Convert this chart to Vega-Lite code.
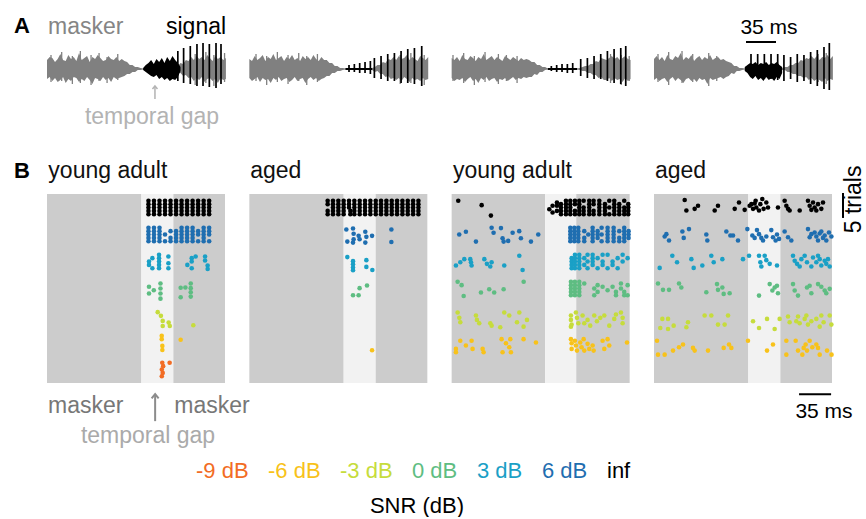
{
  "$schema": "https://vega.github.io/schema/vega-lite/v6.json",
  "background": "white",
  "padding": {"left": 13, "top": 14, "right": 0, "bottom": 0},
  "config": {
    "view": {"stroke": null},
    "font": "Liberation Sans",
    "axis": {"disable": true}
  },
  "datasets": {
    "stim": [
      {"p": 1, "seg": "masker", "t0": 0, "t1": 106}, {"p": 1, "seg": "gap", "t0": 106, "t1": 142}, {"p": 1, "seg": "masker", "t0": 142, "t1": 200},
      {"p": 2, "seg": "masker", "t0": 0, "t1": 106}, {"p": 2, "seg": "gap", "t0": 106, "t1": 142}, {"p": 2, "seg": "masker", "t0": 142, "t1": 200},
      {"p": 3, "seg": "masker", "t0": 0, "t1": 105}, {"p": 3, "seg": "gap", "t0": 105, "t1": 140}, {"p": 3, "seg": "masker", "t0": 140, "t1": 200},
      {"p": 4, "seg": "masker", "t0": 0, "t1": 106}, {"p": 4, "seg": "gap", "t0": 106, "t1": 142}, {"p": 4, "seg": "masker", "t0": 142, "t1": 200}
    ],
    "wave": [
      {"w":1,"t":0,"hi":9,"lo":-10},{"w":1,"t":3,"hi":12,"lo":-8},{"w":1,"t":6,"hi":11,"lo":-12},{"w":1,"t":9,"hi":7,"lo":-9},{"w":1,"t":12,"hi":10,"lo":-13},{"w":1,"t":15,"hi":15,"lo":-11},{"w":1,"t":18,"hi":9,"lo":-8},{"w":1,"t":21,"hi":8,"lo":-14},{"w":1,"t":24,"hi":14,"lo":-10},{"w":1,"t":27,"hi":10,"lo":-12},{"w":1,"t":30,"hi":12,"lo":-8},{"w":1,"t":33,"hi":8,"lo":-9},{"w":1,"t":36,"hi":16,"lo":-13},{"w":1,"t":39,"hi":9,"lo":-10},{"w":1,"t":42,"hi":11,"lo":-12},{"w":1,"t":45,"hi":13,"lo":-8},{"w":1,"t":48,"hi":7,"lo":-11},{"w":1,"t":51,"hi":12,"lo":-15},{"w":1,"t":54,"hi":10,"lo":-9},{"w":1,"t":57,"hi":14,"lo":-10},{"w":1,"t":60,"hi":11,"lo":-12},{"w":1,"t":63,"hi":8,"lo":-8},{"w":1,"t":66,"hi":9,"lo":-11},{"w":1,"t":69,"hi":13,"lo":-9},{"w":1,"t":72,"hi":10,"lo":-13},{"w":1,"t":75,"hi":9,"lo":-8},{"w":1,"t":78,"hi":12,"lo":-10},{"w":1,"t":81,"hi":8,"lo":-9},{"w":1,"t":84,"hi":10,"lo":-8},{"w":1,"t":87,"hi":8,"lo":-7},{"w":1,"t":90,"hi":7,"lo":-5},{"w":1,"t":93,"hi":4,"lo":-5},{"w":1,"t":96,"hi":4,"lo":-3},{"w":1,"t":99,"hi":2,"lo":-3},{"w":1,"t":102,"hi":2,"lo":-1},{"w":1,"t":105,"hi":1,"lo":-1},{"w":1,"t":108,"hi":0.6,"lo":-0.6},{"w":1,"t":138,"hi":0.6,"lo":-0.6},{"w":1,"t":141,"hi":1,"lo":-1},{"w":1,"t":144,"hi":3,"lo":-2},{"w":1,"t":147,"hi":3,"lo":-4},{"w":1,"t":150,"hi":6,"lo":-4},{"w":1,"t":153,"hi":5,"lo":-7},{"w":1,"t":156,"hi":9,"lo":-6},{"w":1,"t":159,"hi":8,"lo":-9},{"w":1,"t":162,"hi":12,"lo":-8},{"w":1,"t":165,"hi":9,"lo":-12},{"w":1,"t":168,"hi":13,"lo":-9},{"w":1,"t":171,"hi":10,"lo":-11},{"w":1,"t":174,"hi":12,"lo":-8},{"w":1,"t":177,"hi":9,"lo":-13},{"w":1,"t":180,"hi":14,"lo":-10},{"w":1,"t":183,"hi":11,"lo":-9},{"w":1,"t":186,"hi":8,"lo":-12},{"w":1,"t":189,"hi":13,"lo":-10},{"w":1,"t":192,"hi":10,"lo":-14},{"w":1,"t":195,"hi":12,"lo":-9},{"w":1,"t":198,"hi":9,"lo":-11},{"w":1,"t":201,"hi":11,"lo":-10},
      {"w":2,"t":0,"hi":10,"lo":-9},{"w":2,"t":3,"hi":8,"lo":-12},{"w":2,"t":6,"hi":13,"lo":-10},{"w":2,"t":9,"hi":9,"lo":-8},{"w":2,"t":12,"hi":11,"lo":-13},{"w":2,"t":15,"hi":14,"lo":-9},{"w":2,"t":18,"hi":8,"lo":-11},{"w":2,"t":21,"hi":12,"lo":-10},{"w":2,"t":24,"hi":10,"lo":-14},{"w":2,"t":27,"hi":15,"lo":-9},{"w":2,"t":30,"hi":9,"lo":-11},{"w":2,"t":33,"hi":11,"lo":-8},{"w":2,"t":36,"hi":13,"lo":-12},{"w":2,"t":39,"hi":8,"lo":-10},{"w":2,"t":42,"hi":12,"lo":-9},{"w":2,"t":45,"hi":10,"lo":-13},{"w":2,"t":48,"hi":14,"lo":-11},{"w":2,"t":51,"hi":9,"lo":-8},{"w":2,"t":54,"hi":11,"lo":-12},{"w":2,"t":57,"hi":8,"lo":-10},{"w":2,"t":60,"hi":13,"lo":-9},{"w":2,"t":63,"hi":10,"lo":-14},{"w":2,"t":66,"hi":12,"lo":-10},{"w":2,"t":69,"hi":9,"lo":-8},{"w":2,"t":72,"hi":14,"lo":-11},{"w":2,"t":75,"hi":10,"lo":-9},{"w":2,"t":78,"hi":8,"lo":-12},{"w":2,"t":81,"hi":12,"lo":-10},{"w":2,"t":84,"hi":9,"lo":-9},{"w":2,"t":87,"hi":9,"lo":-7},{"w":2,"t":90,"hi":6,"lo":-7},{"w":2,"t":93,"hi":6,"lo":-4},{"w":2,"t":96,"hi":3,"lo":-4},{"w":2,"t":99,"hi":3,"lo":-2},{"w":2,"t":102,"hi":1,"lo":-2},{"w":2,"t":105,"hi":1,"lo":-1},{"w":2,"t":108,"hi":0.6,"lo":-0.6},{"w":2,"t":135,"hi":0.6,"lo":-0.6},{"w":2,"t":138,"hi":1,"lo":-1},{"w":2,"t":141,"hi":2,"lo":-3},{"w":2,"t":144,"hi":4,"lo":-2},{"w":2,"t":147,"hi":4,"lo":-5},{"w":2,"t":150,"hi":7,"lo":-5},{"w":2,"t":153,"hi":6,"lo":-8},{"w":2,"t":156,"hi":10,"lo":-7},{"w":2,"t":159,"hi":9,"lo":-10},{"w":2,"t":162,"hi":12,"lo":-9},{"w":2,"t":165,"hi":9,"lo":-11},{"w":2,"t":168,"hi":13,"lo":-9},{"w":2,"t":171,"hi":10,"lo":-12},{"w":2,"t":174,"hi":11,"lo":-8},{"w":2,"t":177,"hi":14,"lo":-10},{"w":2,"t":180,"hi":9,"lo":-13},{"w":2,"t":183,"hi":12,"lo":-9},{"w":2,"t":186,"hi":10,"lo":-11},{"w":2,"t":189,"hi":8,"lo":-10},{"w":2,"t":192,"hi":13,"lo":-12},{"w":2,"t":195,"hi":11,"lo":-9},{"w":2,"t":198,"hi":9,"lo":-11},{"w":2,"t":201,"hi":12,"lo":-10},
      {"w":3,"t":0,"hi":11,"lo":-9},{"w":3,"t":3,"hi":9,"lo":-12},{"w":3,"t":6,"hi":12,"lo":-10},{"w":3,"t":9,"hi":8,"lo":-11},{"w":3,"t":12,"hi":14,"lo":-9},{"w":3,"t":15,"hi":10,"lo":-13},{"w":3,"t":18,"hi":9,"lo":-10},{"w":3,"t":21,"hi":13,"lo":-8},{"w":3,"t":24,"hi":11,"lo":-12},{"w":3,"t":27,"hi":8,"lo":-10},{"w":3,"t":30,"hi":12,"lo":-14},{"w":3,"t":33,"hi":10,"lo":-9},{"w":3,"t":36,"hi":15,"lo":-11},{"w":3,"t":39,"hi":9,"lo":-8},{"w":3,"t":42,"hi":11,"lo":-12},{"w":3,"t":45,"hi":13,"lo":-10},{"w":3,"t":48,"hi":9,"lo":-9},{"w":3,"t":51,"hi":12,"lo":-13},{"w":3,"t":54,"hi":10,"lo":-10},{"w":3,"t":57,"hi":8,"lo":-11},{"w":3,"t":60,"hi":13,"lo":-9},{"w":3,"t":63,"hi":11,"lo":-12},{"w":3,"t":66,"hi":9,"lo":-10},{"w":3,"t":69,"hi":12,"lo":-8},{"w":3,"t":72,"hi":10,"lo":-11},{"w":3,"t":75,"hi":8,"lo":-9},{"w":3,"t":78,"hi":11,"lo":-10},{"w":3,"t":81,"hi":9,"lo":-8},{"w":3,"t":84,"hi":10,"lo":-9},{"w":3,"t":87,"hi":9,"lo":-8},{"w":3,"t":90,"hi":7,"lo":-8},{"w":3,"t":93,"hi":7,"lo":-5},{"w":3,"t":96,"hi":4,"lo":-6},{"w":3,"t":99,"hi":4,"lo":-3},{"w":3,"t":102,"hi":2,"lo":-3},{"w":3,"t":105,"hi":2,"lo":-1},{"w":3,"t":108,"hi":0.6,"lo":-0.6},{"w":3,"t":141,"hi":0.6,"lo":-0.6},{"w":3,"t":144,"hi":1,"lo":-1},{"w":3,"t":147,"hi":2,"lo":-2},{"w":3,"t":150,"hi":3,"lo":-2},{"w":3,"t":153,"hi":3,"lo":-4},{"w":3,"t":156,"hi":5,"lo":-4},{"w":3,"t":159,"hi":5,"lo":-6},{"w":3,"t":162,"hi":8,"lo":-6},{"w":3,"t":165,"hi":7,"lo":-9},{"w":3,"t":168,"hi":11,"lo":-8},{"w":3,"t":171,"hi":10,"lo":-11},{"w":3,"t":174,"hi":9,"lo":-11},{"w":3,"t":177,"hi":11,"lo":-9},{"w":3,"t":180,"hi":13,"lo":-12},{"w":3,"t":183,"hi":10,"lo":-9},{"w":3,"t":186,"hi":12,"lo":-11},{"w":3,"t":189,"hi":9,"lo":-10},{"w":3,"t":192,"hi":11,"lo":-13},{"w":3,"t":195,"hi":13,"lo":-9},{"w":3,"t":198,"hi":10,"lo":-12},{"w":3,"t":201,"hi":9,"lo":-10},
      {"w":4,"t":0,"hi":10,"lo":-11},{"w":4,"t":3,"hi":13,"lo":-9},{"w":4,"t":6,"hi":9,"lo":-12},{"w":4,"t":9,"hi":12,"lo":-10},{"w":4,"t":12,"hi":8,"lo":-9},{"w":4,"t":15,"hi":14,"lo":-13},{"w":4,"t":18,"hi":10,"lo":-10},{"w":4,"t":21,"hi":9,"lo":-8},{"w":4,"t":24,"hi":13,"lo":-12},{"w":4,"t":27,"hi":11,"lo":-9},{"w":4,"t":30,"hi":16,"lo":-11},{"w":4,"t":33,"hi":9,"lo":-14},{"w":4,"t":36,"hi":12,"lo":-10},{"w":4,"t":39,"hi":10,"lo":-9},{"w":4,"t":42,"hi":14,"lo":-12},{"w":4,"t":45,"hi":8,"lo":-10},{"w":4,"t":48,"hi":11,"lo":-13},{"w":4,"t":51,"hi":13,"lo":-9},{"w":4,"t":54,"hi":9,"lo":-11},{"w":4,"t":57,"hi":12,"lo":-10},{"w":4,"t":60,"hi":10,"lo":-15},{"w":4,"t":63,"hi":14,"lo":-9},{"w":4,"t":66,"hi":9,"lo":-11},{"w":4,"t":69,"hi":11,"lo":-10},{"w":4,"t":72,"hi":12,"lo":-9},{"w":4,"t":75,"hi":9,"lo":-8},{"w":4,"t":78,"hi":10,"lo":-10},{"w":4,"t":81,"hi":8,"lo":-8},{"w":4,"t":84,"hi":7,"lo":-7},{"w":4,"t":87,"hi":6,"lo":-4},{"w":4,"t":90,"hi":3,"lo":-5},{"w":4,"t":93,"hi":3,"lo":-2},{"w":4,"t":96,"hi":1,"lo":-2},{"w":4,"t":99,"hi":1,"lo":-1},{"w":4,"t":102,"hi":0.6,"lo":-0.6},{"w":4,"t":141,"hi":0.6,"lo":-0.6},{"w":4,"t":144,"hi":1,"lo":-1},{"w":4,"t":147,"hi":2,"lo":-1},{"w":4,"t":150,"hi":2,"lo":-3},{"w":4,"t":153,"hi":4,"lo":-3},{"w":4,"t":156,"hi":4,"lo":-5},{"w":4,"t":159,"hi":6,"lo":-5},{"w":4,"t":162,"hi":6,"lo":-7},{"w":4,"t":165,"hi":9,"lo":-7},{"w":4,"t":168,"hi":8,"lo":-9},{"w":4,"t":171,"hi":11,"lo":-8},{"w":4,"t":174,"hi":10,"lo":-11},{"w":4,"t":177,"hi":13,"lo":-9},{"w":4,"t":180,"hi":10,"lo":-12},{"w":4,"t":183,"hi":13,"lo":-10},{"w":4,"t":186,"hi":9,"lo":-11},{"w":4,"t":189,"hi":12,"lo":-13},{"w":4,"t":192,"hi":11,"lo":-9},{"w":4,"t":195,"hi":14,"lo":-12},{"w":4,"t":198,"hi":10,"lo":-10},{"w":4,"t":201,"hi":13,"lo":-11}
    ],
    "peaks": [
      {"w":1,"t":4.5,"hi":14,"lo":-13},{"w":1,"t":16.5,"hi":17,"lo":-12},{"w":1,"t":28.5,"hi":13,"lo":-15},{"w":1,"t":37.5,"hi":18,"lo":-14},{"w":1,"t":49.5,"hi":14,"lo":-16},{"w":1,"t":58.5,"hi":16,"lo":-12},{"w":1,"t":67.5,"hi":12,"lo":-14},{"w":1,"t":79.5,"hi":15,"lo":-11},{"w":1,"t":166.5,"hi":15,"lo":-16},{"w":1,"t":178.5,"hi":17,"lo":-14},{"w":1,"t":187.5,"hi":14,"lo":-17},{"w":1,"t":199.5,"hi":16,"lo":-13},
      {"w":2,"t":7.5,"hi":15,"lo":-12},{"w":2,"t":19.5,"hi":13,"lo":-16},{"w":2,"t":31.5,"hi":17,"lo":-13},{"w":2,"t":43.5,"hi":14,"lo":-15},{"w":2,"t":55.5,"hi":16,"lo":-12},{"w":2,"t":64.5,"hi":13,"lo":-16},{"w":2,"t":76.5,"hi":15,"lo":-13},{"w":2,"t":169.5,"hi":14,"lo":-15},{"w":2,"t":181.5,"hi":16,"lo":-14},{"w":2,"t":196.5,"hi":14,"lo":-16},
      {"w":3,"t":1.5,"hi":14,"lo":-12},{"w":3,"t":13.5,"hi":16,"lo":-14},{"w":3,"t":25.5,"hi":13,"lo":-16},{"w":3,"t":37.5,"hi":17,"lo":-13},{"w":3,"t":52.5,"hi":15,"lo":-15},{"w":3,"t":61.5,"hi":14,"lo":-12},{"w":3,"t":73.5,"hi":13,"lo":-14},{"w":3,"t":178.5,"hi":15,"lo":-14},{"w":3,"t":190.5,"hi":14,"lo":-16},{"w":3,"t":199.5,"hi":13,"lo":-12},
      {"w":4,"t":4.5,"hi":15,"lo":-13},{"w":4,"t":16.5,"hi":17,"lo":-16},{"w":4,"t":31.5,"hi":18,"lo":-14},{"w":4,"t":43.5,"hi":15,"lo":-13},{"w":4,"t":61.5,"hi":16,"lo":-17},{"w":4,"t":70.5,"hi":13,"lo":-12},{"w":4,"t":184.5,"hi":15,"lo":-13},{"w":4,"t":193.5,"hi":16,"lo":-15}
    ],
    "sig": [
      {"w":1,"k":"body","t":108,"hi":1,"lo":-1},{"w":1,"k":"body","t":111,"hi":4,"lo":-3},{"w":1,"k":"body","t":114,"hi":6,"lo":-5},{"w":1,"k":"body","t":117,"hi":9,"lo":-7},{"w":1,"k":"body","t":120,"hi":5,"lo":-8},{"w":1,"k":"body","t":123,"hi":10,"lo":-6},{"w":1,"k":"body","t":126,"hi":7,"lo":-10},{"w":1,"k":"body","t":129,"hi":11,"lo":-8},{"w":1,"k":"body","t":132,"hi":6,"lo":-11},{"w":1,"k":"body","t":135,"hi":12,"lo":-9},{"w":1,"k":"body","t":138,"hi":8,"lo":-12},{"w":1,"k":"body","t":141,"hi":13,"lo":-10},{"w":1,"k":"body","t":144,"hi":9,"lo":-11},{"w":1,"k":"body","t":147,"hi":6,"lo":-8},{"w":1,"k":"body","t":150,"hi":2,"lo":-2},
      {"w":1,"k":"spike","t":147,"hi":18,"lo":-12},{"w":1,"k":"spike","t":153.5,"hi":21,"lo":-14},{"w":1,"k":"spike","t":161,"hi":23,"lo":-15},{"w":1,"k":"spike","t":168.5,"hi":25,"lo":-17},{"w":1,"k":"spike","t":175.3,"hi":26,"lo":-17},{"w":1,"k":"spike","t":182.4,"hi":25,"lo":-18},{"w":1,"k":"spike","t":189.9,"hi":26,"lo":-19},{"w":1,"k":"spike","t":195.5,"hi":25,"lo":-15},
      {"w":2,"k":"body","t":108,"hi":1,"lo":-1},{"w":2,"k":"body","t":138,"hi":1,"lo":-1},
      {"w":2,"k":"spike","t":112,"hi":4,"lo":-3},{"w":2,"k":"spike","t":118,"hi":5,"lo":-3},{"w":2,"k":"spike","t":124,"hi":6,"lo":-4},{"w":2,"k":"spike","t":130,"hi":7,"lo":-4},{"w":2,"k":"spike","t":136,"hi":8,"lo":-5},{"w":2,"k":"spike","t":140.5,"hi":11,"lo":-9},{"w":2,"k":"spike","t":148,"hi":13,"lo":-10},{"w":2,"k":"spike","t":155.5,"hi":15,"lo":-12},{"w":2,"k":"spike","t":163,"hi":16,"lo":-12},{"w":2,"k":"spike","t":170.5,"hi":18,"lo":-14},{"w":2,"k":"spike","t":178,"hi":20,"lo":-14},{"w":2,"k":"spike","t":185.5,"hi":21,"lo":-15},{"w":2,"k":"spike","t":193.7,"hi":23,"lo":-17},
      {"w":3,"k":"body","t":108,"hi":1,"lo":-1},{"w":3,"k":"body","t":141,"hi":1,"lo":-1},
      {"w":3,"k":"spike","t":112,"hi":3,"lo":-2},{"w":3,"k":"spike","t":118,"hi":4,"lo":-3},{"w":3,"k":"spike","t":124,"hi":5,"lo":-3},{"w":3,"k":"spike","t":130,"hi":5,"lo":-4},{"w":3,"k":"spike","t":136,"hi":6,"lo":-4},{"w":3,"k":"spike","t":145,"hi":10,"lo":-7},{"w":3,"k":"spike","t":152.5,"hi":11,"lo":-9},{"w":3,"k":"spike","t":160,"hi":13,"lo":-10},{"w":3,"k":"spike","t":167.5,"hi":15,"lo":-10},{"w":3,"k":"spike","t":175,"hi":18,"lo":-12},{"w":3,"k":"spike","t":182.5,"hi":20,"lo":-14},{"w":3,"k":"spike","t":190,"hi":21,"lo":-15},{"w":3,"k":"spike","t":195.6,"hi":23,"lo":-17},
      {"w":4,"k":"body","t":102,"hi":2,"lo":-2},{"w":4,"k":"body","t":105,"hi":4,"lo":-4},{"w":4,"k":"body","t":108,"hi":6,"lo":-8},{"w":4,"k":"body","t":111,"hi":5,"lo":-10},{"w":4,"k":"body","t":114,"hi":7,"lo":-7},{"w":4,"k":"body","t":117,"hi":4,"lo":-11},{"w":4,"k":"body","t":120,"hi":6,"lo":-9},{"w":4,"k":"body","t":123,"hi":5,"lo":-12},{"w":4,"k":"body","t":126,"hi":7,"lo":-8},{"w":4,"k":"body","t":129,"hi":4,"lo":-11},{"w":4,"k":"body","t":132,"hi":6,"lo":-9},{"w":4,"k":"body","t":135,"hi":5,"lo":-12},{"w":4,"k":"body","t":138,"hi":7,"lo":-8},{"w":4,"k":"body","t":141,"hi":4,"lo":-10},{"w":4,"k":"body","t":144,"hi":2,"lo":-4},
      {"w":4,"k":"spike","t":109,"hi":15,"lo":-8},{"w":4,"k":"spike","t":116.5,"hi":15,"lo":-9},{"w":4,"k":"spike","t":124,"hi":15,"lo":-10},{"w":4,"k":"spike","t":131.5,"hi":15,"lo":-10},{"w":4,"k":"spike","t":139,"hi":15,"lo":-11},{"w":4,"k":"spike","t":146,"hi":14,"lo":-12},{"w":4,"k":"spike","t":153.5,"hi":12,"lo":-10},{"w":4,"k":"spike","t":161,"hi":15,"lo":-13},{"w":4,"k":"spike","t":168.5,"hi":14,"lo":-12},{"w":4,"k":"spike","t":176,"hi":17,"lo":-15},{"w":4,"k":"spike","t":183.5,"hi":19,"lo":-17},{"w":4,"k":"spike","t":191,"hi":22,"lo":-20},{"w":4,"k":"spike","t":197,"hi":26,"lo":-21}
    ],
    "p1": [
      {"s":"inf","t":114,"r":2},{"s":"inf","t":114,"r":3},{"s":"inf","t":114,"r":4},{"s":"inf","t":114,"r":5},{"s":"inf","t":114,"r":6},
      {"s":"inf","t":120.2,"r":2},{"s":"inf","t":120.2,"r":3},{"s":"inf","t":120.2,"r":4},{"s":"inf","t":120.2,"r":5},{"s":"inf","t":120.2,"r":6},
      {"s":"inf","t":126.4,"r":2},{"s":"inf","t":126.4,"r":3},{"s":"inf","t":126.4,"r":4},{"s":"inf","t":126.4,"r":5},{"s":"inf","t":126.4,"r":6},
      {"s":"inf","t":132.6,"r":2},{"s":"inf","t":132.6,"r":3},{"s":"inf","t":132.6,"r":4},{"s":"inf","t":132.6,"r":5},{"s":"inf","t":132.6,"r":6},
      {"s":"inf","t":138.8,"r":2},{"s":"inf","t":138.8,"r":3},{"s":"inf","t":138.8,"r":4},{"s":"inf","t":138.8,"r":5},{"s":"inf","t":138.8,"r":6},
      {"s":"inf","t":145,"r":2},{"s":"inf","t":145,"r":3},{"s":"inf","t":145,"r":4},{"s":"inf","t":145,"r":5},{"s":"inf","t":145,"r":6},
      {"s":"inf","t":151.2,"r":2},{"s":"inf","t":151.2,"r":3},{"s":"inf","t":151.2,"r":4},{"s":"inf","t":151.2,"r":5},{"s":"inf","t":151.2,"r":6},
      {"s":"inf","t":157.4,"r":2},{"s":"inf","t":157.4,"r":3},{"s":"inf","t":157.4,"r":4},{"s":"inf","t":157.4,"r":5},{"s":"inf","t":157.4,"r":6},
      {"s":"inf","t":163.6,"r":2},{"s":"inf","t":163.6,"r":3},{"s":"inf","t":163.6,"r":4},{"s":"inf","t":163.6,"r":5},{"s":"inf","t":163.6,"r":6},
      {"s":"inf","t":169.8,"r":2},{"s":"inf","t":169.8,"r":3},{"s":"inf","t":169.8,"r":4},{"s":"inf","t":169.8,"r":5},{"s":"inf","t":169.8,"r":6},
      {"s":"inf","t":176,"r":2},{"s":"inf","t":176,"r":3},{"s":"inf","t":176,"r":4},{"s":"inf","t":176,"r":5},{"s":"inf","t":176,"r":6},
      {"s":"inf","t":182.2,"r":2},{"s":"inf","t":182.2,"r":3},{"s":"inf","t":182.2,"r":4},{"s":"inf","t":182.2,"r":5},{"s":"inf","t":182.2,"r":6},
      {"s":"6","t":114,"r":10},{"s":"6","t":114,"r":11},{"s":"6","t":114,"r":12},{"s":"6","t":114,"r":13},{"s":"6","t":114,"r":14},
      {"s":"6","t":120.2,"r":10},{"s":"6","t":120.2,"r":11},{"s":"6","t":120.2,"r":12},{"s":"6","t":120.2,"r":13},{"s":"6","t":120.2,"r":14},
      {"s":"6","t":126.4,"r":10},{"s":"6","t":126.4,"r":11},{"s":"6","t":126.4,"r":12},{"s":"6","t":126.4,"r":13},{"s":"6","t":126.4,"r":14},
      {"s":"6","t":132.6,"r":12},{"s":"6","t":132.6,"r":14},
      {"s":"6","t":138.8,"r":11},{"s":"6","t":138.8,"r":13},{"s":"6","t":138.8,"r":14},
      {"s":"6","t":145,"r":11},{"s":"6","t":145,"r":12},{"s":"6","t":145,"r":13},{"s":"6","t":145,"r":14},
      {"s":"6","t":151.2,"r":10},{"s":"6","t":151.2,"r":11},{"s":"6","t":151.2,"r":12},{"s":"6","t":151.2,"r":13},{"s":"6","t":151.2,"r":14},
      {"s":"6","t":157.4,"r":10},{"s":"6","t":157.4,"r":11},{"s":"6","t":157.4,"r":12},{"s":"6","t":157.4,"r":13},{"s":"6","t":157.4,"r":14},
      {"s":"6","t":163.6,"r":10},{"s":"6","t":163.6,"r":11},{"s":"6","t":163.6,"r":12},{"s":"6","t":163.6,"r":13},{"s":"6","t":163.6,"r":14},
      {"s":"6","t":169.8,"r":11},{"s":"6","t":169.8,"r":12},{"s":"6","t":169.8,"r":14},
      {"s":"6","t":176,"r":10},{"s":"6","t":176,"r":11},{"s":"6","t":176,"r":12},{"s":"6","t":176,"r":13},{"s":"6","t":176,"r":14},
      {"s":"6","t":182.2,"r":10},{"s":"6","t":182.2,"r":11},{"s":"6","t":182.2,"r":12},{"s":"6","t":182.2,"r":14},
      {"s":"3","t":114.6,"r":20},{"s":"3","t":114.6,"r":21},{"s":"3","t":118.4,"r":19},{"s":"3","t":118.4,"r":22},{"s":"3","t":125.9,"r":18},{"s":"3","t":125.9,"r":19},{"s":"3","t":125.9,"r":20},{"s":"3","t":125.9,"r":21},{"s":"3","t":125.9,"r":22},{"s":"3","t":136.4,"r":18.5},{"s":"3","t":136.4,"r":20.5},{"s":"3","t":136.4,"r":22},{"s":"3","t":157.7,"r":21},{"s":"3","t":162.6,"r":19},{"s":"3","t":162.6,"r":20},{"s":"3","t":162.6,"r":22},{"s":"3","t":167,"r":18.5},{"s":"3","t":177.6,"r":18.5},{"s":"3","t":177.6,"r":19.7},{"s":"3","t":180.5,"r":21.2},{"s":"3","t":180.5,"r":22.2},
      {"s":"0","t":114.6,"r":27.5},{"s":"0","t":114.6,"r":29.5},{"s":"0","t":120,"r":28.5},{"s":"0","t":127.5,"r":26.5},{"s":"0","t":127.5,"r":28},{"s":"0","t":127.5,"r":29.5},{"s":"0","t":127.5,"r":31},{"s":"0","t":150.2,"r":27.8},{"s":"0","t":150.2,"r":30.6},{"s":"0","t":155.5,"r":27.7},{"s":"0","t":161.5,"r":26.5},{"s":"0","t":161.5,"r":27.9},{"s":"0","t":161.5,"r":29.1},{"s":"0","t":161.5,"r":30.4},
      {"s":"-3","t":124.4,"r":35},{"s":"-3","t":128,"r":36.1},{"s":"-3","t":130,"r":37.6},{"s":"-3","t":130,"r":39.1},{"s":"-3","t":136.7,"r":38.1},{"s":"-3","t":138,"r":39.1},{"s":"-3","t":164.4,"r":38.9},
      {"s":"-6","t":128.9,"r":42},{"s":"-6","t":128.9,"r":43},{"s":"-6","t":129.6,"r":45},{"s":"-6","t":129.6,"r":46.2},{"s":"-6","t":150.2,"r":43.2},
      {"s":"-9","t":129.5,"r":50},{"s":"-9","t":130.5,"r":51},{"s":"-9","t":129,"r":52},{"s":"-9","t":130,"r":53},{"s":"-9","t":129,"r":54},{"s":"-9","t":137.8,"r":50}
    ],
    "p2": [
      {"s":"inf","t":88,"r":2},{"s":"inf","t":88,"r":3},{"s":"inf","t":88,"r":5},{"s":"inf","t":88,"r":6},
      {"s":"inf","t":94,"r":2},{"s":"inf","t":94,"r":3},{"s":"inf","t":94,"r":4},{"s":"inf","t":94,"r":5},{"s":"inf","t":94,"r":6},
      {"s":"inf","t":100,"r":2},{"s":"inf","t":100,"r":3},{"s":"inf","t":100,"r":4},{"s":"inf","t":100,"r":5},{"s":"inf","t":100,"r":6},
      {"s":"inf","t":106,"r":2},{"s":"inf","t":106,"r":3},{"s":"inf","t":106,"r":4},{"s":"inf","t":106,"r":5},{"s":"inf","t":106,"r":6},
      {"s":"inf","t":112,"r":2},{"s":"inf","t":112,"r":3},{"s":"inf","t":112,"r":4},{"s":"inf","t":113.5,"r":5},{"s":"inf","t":113.5,"r":6},
      {"s":"inf","t":118,"r":2},{"s":"inf","t":118,"r":3},{"s":"inf","t":118,"r":4},{"s":"inf","t":118,"r":5},{"s":"inf","t":118,"r":6},
      {"s":"inf","t":124,"r":2},{"s":"inf","t":124,"r":3},{"s":"inf","t":124,"r":4},{"s":"inf","t":124,"r":5},{"s":"inf","t":124,"r":6},
      {"s":"inf","t":130,"r":2},{"s":"inf","t":130,"r":3},{"s":"inf","t":130,"r":4},{"s":"inf","t":130,"r":5},{"s":"inf","t":130,"r":6},
      {"s":"inf","t":136,"r":2},{"s":"inf","t":136,"r":3},{"s":"inf","t":136,"r":4},{"s":"inf","t":136,"r":5},{"s":"inf","t":136,"r":6},
      {"s":"inf","t":142,"r":2},{"s":"inf","t":142,"r":3},{"s":"inf","t":142,"r":4},{"s":"inf","t":142,"r":5},{"s":"inf","t":142,"r":6},
      {"s":"inf","t":148,"r":2},{"s":"inf","t":148,"r":3},{"s":"inf","t":148,"r":4},{"s":"inf","t":148,"r":5},{"s":"inf","t":148,"r":6},
      {"s":"inf","t":154,"r":2},{"s":"inf","t":154,"r":3},{"s":"inf","t":154,"r":4},{"s":"inf","t":154,"r":5},{"s":"inf","t":154,"r":6},
      {"s":"inf","t":160,"r":2},{"s":"inf","t":160,"r":3},{"s":"inf","t":160,"r":4},{"s":"inf","t":160,"r":5},{"s":"inf","t":160,"r":6},
      {"s":"inf","t":166,"r":2},{"s":"inf","t":166,"r":3},{"s":"inf","t":166,"r":4},{"s":"inf","t":166,"r":5},{"s":"inf","t":166,"r":6},
      {"s":"inf","t":172,"r":2},{"s":"inf","t":172,"r":3},{"s":"inf","t":172,"r":4},{"s":"inf","t":172,"r":5},{"s":"inf","t":172,"r":6},
      {"s":"inf","t":178,"r":2},{"s":"inf","t":178,"r":3},{"s":"inf","t":178,"r":4},{"s":"inf","t":178,"r":5},{"s":"inf","t":178,"r":6},
      {"s":"inf","t":184,"r":2},{"s":"inf","t":184,"r":3},{"s":"inf","t":184,"r":4},{"s":"inf","t":184,"r":5},{"s":"inf","t":184,"r":6},
      {"s":"inf","t":190,"r":2},{"s":"inf","t":190,"r":3},{"s":"inf","t":190,"r":4},{"s":"inf","t":190,"r":5},{"s":"inf","t":190,"r":6},
      {"s":"6","t":109,"r":10.5},{"s":"6","t":110.1,"r":14.1},{"s":"6","t":116.5,"r":10.2},{"s":"6","t":117.2,"r":11.8},{"s":"6","t":117.2,"r":13.4},{"s":"6","t":116.5,"r":14.4},{"s":"6","t":122.8,"r":12.4},{"s":"6","t":123.9,"r":13.4},{"s":"6","t":130.3,"r":11.2},{"s":"6","t":131.5,"r":12.7},{"s":"6","t":130.3,"r":14.4},{"s":"6","t":137.9,"r":12.4},{"s":"6","t":159.6,"r":10.5},{"s":"6","t":159.6,"r":14.2},
      {"s":"3","t":110.1,"r":18.7},{"s":"3","t":116.5,"r":19.9},{"s":"3","t":116.5,"r":20.8},{"s":"3","t":116.5,"r":21.8},{"s":"3","t":116.5,"r":22.6},{"s":"3","t":131.5,"r":19.6},{"s":"3","t":131.5,"r":21.6},{"s":"3","t":138.2,"r":22.5},
      {"s":"0","t":123.9,"r":27.9},{"s":"0","t":132.2,"r":27.1},{"s":"0","t":116.5,"r":30},{"s":"0","t":122.8,"r":30},
      {"s":"-6","t":137.9,"r":46.3}
    ],
    "p3": [
      {"s":"inf","t":7.4,"r":2},{"s":"inf","t":33.7,"r":3.3},{"s":"inf","t":44.1,"r":6.4},
      {"s":"inf","t":109.7,"r":4.5},{"s":"inf","t":113.4,"r":3.5},{"s":"inf","t":113.4,"r":5.5},{"s":"inf","t":118.3,"r":2.5},{"s":"inf","t":118.3,"r":3.5},{"s":"inf","t":118.3,"r":5},
      {"s":"inf","t":122.8,"r":3},{"s":"inf","t":122.8,"r":4},{"s":"inf","t":122.8,"r":5},{"s":"inf","t":122.8,"r":6},
      {"s":"inf","t":128.4,"r":2},{"s":"inf","t":128.4,"r":3},{"s":"inf","t":128.4,"r":4},{"s":"inf","t":128.4,"r":5},{"s":"inf","t":128.4,"r":6},
      {"s":"inf","t":133.3,"r":2},{"s":"inf","t":133.3,"r":3},{"s":"inf","t":133.3,"r":4},{"s":"inf","t":133.3,"r":5},{"s":"inf","t":133.3,"r":6},
      {"s":"inf","t":138.5,"r":2},{"s":"inf","t":138.5,"r":3},{"s":"inf","t":138.5,"r":5},{"s":"inf","t":138.5,"r":6},
      {"s":"inf","t":143.4,"r":2},{"s":"inf","t":143.4,"r":3},{"s":"inf","t":143.4,"r":4},{"s":"inf","t":143.4,"r":5},{"s":"inf","t":143.4,"r":6},
      {"s":"inf","t":148.3,"r":2},{"s":"inf","t":148.3,"r":4},{"s":"inf","t":148.3,"r":5},{"s":"inf","t":148.3,"r":6},
      {"s":"inf","t":154.6,"r":2},{"s":"inf","t":154.6,"r":3},{"s":"inf","t":154.6,"r":4},{"s":"inf","t":154.6,"r":5},{"s":"inf","t":154.6,"r":6},
      {"s":"inf","t":159.5,"r":2},{"s":"inf","t":159.5,"r":3},{"s":"inf","t":159.5,"r":5},{"s":"inf","t":159.5,"r":6},
      {"s":"inf","t":165.9,"r":2},{"s":"inf","t":165.9,"r":3},{"s":"inf","t":165.9,"r":4},{"s":"inf","t":165.9,"r":5},{"s":"inf","t":165.9,"r":6},
      {"s":"inf","t":172.2,"r":3},{"s":"inf","t":172.2,"r":4},{"s":"inf","t":172.2,"r":5},{"s":"inf","t":172.2,"r":6},
      {"s":"inf","t":177.1,"r":2},{"s":"inf","t":177.1,"r":4},{"s":"inf","t":177.1,"r":6},
      {"s":"inf","t":182.7,"r":2},{"s":"inf","t":182.7,"r":3},{"s":"inf","t":182.7,"r":4},{"s":"inf","t":182.7,"r":5},{"s":"inf","t":182.7,"r":6},
      {"s":"inf","t":188.3,"r":3},{"s":"inf","t":188.3,"r":4},{"s":"inf","t":188.3,"r":5},{"s":"inf","t":188.3,"r":6},
      {"s":"inf","t":193.9,"r":2},{"s":"inf","t":193.9,"r":4},{"s":"inf","t":193.9,"r":5},{"s":"inf","t":193.9,"r":6},
      {"s":"inf","t":198.4,"r":3},{"s":"inf","t":198.4,"r":4},{"s":"inf","t":198.4,"r":5},{"s":"inf","t":198.4,"r":6},
      {"s":"6","t":8.5,"r":12},{"s":"6","t":16,"r":11.2},{"s":"6","t":27.3,"r":14.1},{"s":"6","t":44.9,"r":10},{"s":"6","t":47.1,"r":11.5},{"s":"6","t":55.4,"r":10.1},{"s":"6","t":57.2,"r":13.1},{"s":"6","t":58.4,"r":14.1},{"s":"6","t":63.5,"r":13.9},{"s":"6","t":68.5,"r":11.5},{"s":"6","t":75.9,"r":11},{"s":"6","t":77.8,"r":13.1},{"s":"6","t":89.1,"r":14.1},{"s":"6","t":97.3,"r":12},
      {"s":"6","t":133.3,"r":10},{"s":"6","t":133.3,"r":11},{"s":"6","t":133.3,"r":12},{"s":"6","t":133.3,"r":13},{"s":"6","t":133.3,"r":14},
      {"s":"6","t":137.8,"r":10},{"s":"6","t":137.8,"r":11},{"s":"6","t":137.8,"r":12},{"s":"6","t":137.8,"r":13},{"s":"6","t":137.8,"r":14},
      {"s":"6","t":142.3,"r":10},{"s":"6","t":142.3,"r":11},{"s":"6","t":142.3,"r":12},{"s":"6","t":142.3,"r":13},{"s":"6","t":142.3,"r":14},
      {"s":"6","t":149,"r":11},{"s":"6","t":149,"r":13},{"s":"6","t":149,"r":14},{"s":"6","t":153.5,"r":12},
      {"s":"6","t":158.4,"r":10},{"s":"6","t":158.4,"r":11},{"s":"6","t":158.4,"r":12},{"s":"6","t":158.4,"r":13},{"s":"6","t":158.4,"r":14},
      {"s":"6","t":164,"r":11},{"s":"6","t":164,"r":12},{"s":"6","t":164,"r":13},
      {"s":"6","t":168.5,"r":10},{"s":"6","t":168.5,"r":12},{"s":"6","t":168.5,"r":14},
      {"s":"6","t":175.2,"r":10},{"s":"6","t":175.2,"r":11},{"s":"6","t":175.2,"r":12},{"s":"6","t":175.2,"r":13},{"s":"6","t":175.2,"r":14},
      {"s":"6","t":182,"r":10},{"s":"6","t":182,"r":11},{"s":"6","t":182,"r":12},{"s":"6","t":182,"r":13},{"s":"6","t":182,"r":14},
      {"s":"6","t":188.3,"r":11},{"s":"6","t":188.3,"r":13},{"s":"6","t":188.3,"r":14},
      {"s":"6","t":193.9,"r":10},{"s":"6","t":193.9,"r":11},{"s":"6","t":193.9,"r":12},{"s":"6","t":193.9,"r":13},{"s":"6","t":193.9,"r":14},
      {"s":"6","t":198.8,"r":11},{"s":"6","t":198.8,"r":12},{"s":"6","t":198.8,"r":13},
      {"s":"3","t":4.8,"r":21.2},{"s":"3","t":9.7,"r":20.2},{"s":"3","t":14.2,"r":19.3},{"s":"3","t":20.9,"r":19.3},{"s":"3","t":21.7,"r":20.2},{"s":"3","t":22.4,"r":21.2},{"s":"3","t":36.7,"r":19.3},{"s":"3","t":39.6,"r":20.7},{"s":"3","t":43.4,"r":21.5},{"s":"3","t":44.9,"r":20.2},{"s":"3","t":59.1,"r":21.2},{"s":"3","t":76,"r":18.3},{"s":"3","t":79.7,"r":22.5},
      {"s":"3","t":134.8,"r":19},{"s":"3","t":134.8,"r":20},{"s":"3","t":134.8,"r":21},{"s":"3","t":134.8,"r":22},
      {"s":"3","t":138.5,"r":18},{"s":"3","t":138.5,"r":19},{"s":"3","t":138.5,"r":20},{"s":"3","t":138.5,"r":21},{"s":"3","t":138.5,"r":22},
      {"s":"3","t":143.4,"r":18},{"s":"3","t":143.4,"r":19},{"s":"3","t":143.4,"r":20},{"s":"3","t":143.4,"r":21},{"s":"3","t":143.4,"r":22},
      {"s":"3","t":149,"r":19},{"s":"3","t":149,"r":21},{"s":"3","t":152.7,"r":18},{"s":"3","t":152.7,"r":20},{"s":"3","t":152.7,"r":22},
      {"s":"3","t":158.4,"r":18},{"s":"3","t":158.4,"r":19},{"s":"3","t":158.4,"r":20},{"s":"3","t":158.4,"r":21},
      {"s":"3","t":164,"r":19},{"s":"3","t":164,"r":22},{"s":"3","t":169.6,"r":18},{"s":"3","t":169.6,"r":20},{"s":"3","t":169.6,"r":21},
      {"s":"3","t":175.2,"r":18},{"s":"3","t":175.2,"r":22},{"s":"3","t":180.8,"r":20},{"s":"3","t":180.8,"r":21},{"s":"3","t":186.5,"r":19},{"s":"3","t":186.5,"r":22},{"s":"3","t":192.1,"r":18},{"s":"3","t":192.1,"r":20},{"s":"3","t":197.7,"r":19},
      {"s":"0","t":6.7,"r":26},{"s":"0","t":11.2,"r":27},{"s":"0","t":13.5,"r":30.2},{"s":"0","t":32.9,"r":29.2},{"s":"0","t":42.2,"r":28.2},{"s":"0","t":47.8,"r":29.2},{"s":"0","t":58.4,"r":28.2},{"s":"0","t":80.9,"r":26},
      {"s":"0","t":134,"r":26},{"s":"0","t":134,"r":27},{"s":"0","t":134,"r":28},{"s":"0","t":134,"r":29},{"s":"0","t":134,"r":30},
      {"s":"0","t":138.5,"r":26},{"s":"0","t":138.5,"r":27},{"s":"0","t":138.5,"r":28},{"s":"0","t":138.5,"r":29},{"s":"0","t":138.5,"r":30},
      {"s":"0","t":143.4,"r":26},{"s":"0","t":143.4,"r":27},{"s":"0","t":143.4,"r":28},{"s":"0","t":143.4,"r":29},{"s":"0","t":143.4,"r":30},
      {"s":"0","t":149,"r":26.5},{"s":"0","t":160.2,"r":28},{"s":"0","t":160.2,"r":30},{"s":"0","t":164,"r":27},{"s":"0","t":164,"r":29},{"s":"0","t":169.6,"r":27.5},{"s":"0","t":175.2,"r":28.5},{"s":"0","t":180.8,"r":27.5},{"s":"0","t":184.6,"r":29},{"s":"0","t":184.6,"r":30},{"s":"0","t":190.2,"r":26.5},{"s":"0","t":190.2,"r":28},{"s":"0","t":193.9,"r":29},{"s":"0","t":193.9,"r":30},{"s":"0","t":197.7,"r":27},{"s":"0","t":197.7,"r":30},
      {"s":"-3","t":6.7,"r":35.1},{"s":"-3","t":8.6,"r":36.7},{"s":"-3","t":9.7,"r":38},{"s":"-3","t":27.3,"r":36},{"s":"-3","t":28.4,"r":37.3},{"s":"-3","t":31,"r":38.3},{"s":"-3","t":43.4,"r":38.3},{"s":"-3","t":44.9,"r":39},{"s":"-3","t":54.6,"r":39.5},{"s":"-3","t":59.1,"r":35.1},{"s":"-3","t":64.7,"r":36},{"s":"-3","t":73.4,"r":38},{"s":"-3","t":76,"r":35.1},{"s":"-3","t":80.8,"r":39.3},{"s":"-3","t":84.6,"r":37.3},
      {"s":"-3","t":134,"r":36},{"s":"-3","t":134,"r":37.3},{"s":"-3","t":134.8,"r":38.7},{"s":"-3","t":134,"r":39.3},{"s":"-3","t":139.6,"r":35.1},{"s":"-3","t":140.8,"r":36.7},{"s":"-3","t":142.3,"r":38.3},{"s":"-3","t":147.1,"r":36},{"s":"-3","t":149,"r":38.3},{"s":"-3","t":152.7,"r":37.3},{"s":"-3","t":155.7,"r":39},{"s":"-3","t":160.2,"r":36},{"s":"-3","t":163.2,"r":37.7},{"s":"-3","t":167,"r":36.7},{"s":"-3","t":171.5,"r":36},{"s":"-3","t":177.1,"r":39},{"s":"-3","t":182.7,"r":37},{"s":"-3","t":184.6,"r":35.7},{"s":"-3","t":190.2,"r":35.1},{"s":"-3","t":192.1,"r":36.7},{"s":"-3","t":192.1,"r":38.3},
      {"s":"-6","t":4.8,"r":45.9},{"s":"-6","t":4.8,"r":46.9},{"s":"-6","t":9.7,"r":43.5},{"s":"-6","t":16,"r":44.9},{"s":"-6","t":22.4,"r":43.5},{"s":"-6","t":23.5,"r":45.9},{"s":"-6","t":34.8,"r":45.9},{"s":"-6","t":35.9,"r":46.9},{"s":"-6","t":56.1,"r":43},{"s":"-6","t":57.2,"r":46.9},{"s":"-6","t":61,"r":44.2},{"s":"-6","t":65.9,"r":43},{"s":"-6","t":64.7,"r":45.4},{"s":"-6","t":66.6,"r":46.9},{"s":"-6","t":80.8,"r":43},{"s":"-6","t":94.7,"r":44},
      {"s":"-6","t":134,"r":43},{"s":"-6","t":134.8,"r":44.2},{"s":"-6","t":134.8,"r":45.9},{"s":"-6","t":138.5,"r":43.5},{"s":"-6","t":139.6,"r":44.9},{"s":"-6","t":140.8,"r":46.4},{"s":"-6","t":144.5,"r":44},{"s":"-6","t":146,"r":45.4},{"s":"-6","t":148.3,"r":43},{"s":"-6","t":149,"r":46.4},{"s":"-6","t":152.7,"r":44.4},{"s":"-6","t":154.6,"r":45.9},{"s":"-6","t":158.4,"r":44.9},{"s":"-6","t":159.5,"r":46.4},{"s":"-6","t":169.6,"r":43.5},{"s":"-6","t":171.5,"r":45.9},{"s":"-6","t":175.2,"r":43},{"s":"-6","t":177.1,"r":44.9},{"s":"-6","t":197,"r":44}
    ],
    "p4": [
      {"s":"inf","t":34.5,"r":1.8},{"s":"inf","t":36.4,"r":4.9},{"s":"inf","t":45.7,"r":4.4},{"s":"inf","t":49.5,"r":3.5},{"s":"inf","t":68.2,"r":4.9},{"s":"inf","t":71.9,"r":3.5},{"s":"inf","t":90.7,"r":4.4},{"s":"inf","t":95.5,"r":2.5},{"s":"inf","t":101.9,"r":4.7},{"s":"inf","t":107.5,"r":3.5},{"s":"inf","t":109.4,"r":3},{"s":"inf","t":111.3,"r":4.4},{"s":"inf","t":113.1,"r":2.8},{"s":"inf","t":114.2,"r":2},{"s":"inf","t":115,"r":4},{"s":"inf","t":118,"r":4.9},{"s":"inf","t":119.5,"r":3},{"s":"inf","t":121.7,"r":1.5},{"s":"inf","t":123.2,"r":4.4},{"s":"inf","t":126.2,"r":2.5},{"s":"inf","t":128.1,"r":4},{"s":"inf","t":139.3,"r":4},{"s":"inf","t":146.8,"r":2},{"s":"inf","t":148.7,"r":3.5},{"s":"inf","t":150.6,"r":4.4},{"s":"inf","t":152.4,"r":4.9},{"s":"inf","t":163.7,"r":4.9},{"s":"inf","t":173,"r":2},{"s":"inf","t":174.9,"r":3.5},{"s":"inf","t":176.8,"r":4.7},{"s":"inf","t":178.7,"r":2.5},{"s":"inf","t":180.5,"r":4},{"s":"inf","t":182.4,"r":4.9},{"s":"inf","t":184.3,"r":3},{"s":"inf","t":188,"r":4.4},{"s":"inf","t":189.9,"r":2.5},
      {"s":"6","t":12,"r":12.6},{"s":"6","t":13.9,"r":11.9},{"s":"6","t":16.9,"r":13.8},{"s":"6","t":31.9,"r":11.1},{"s":"6","t":33.4,"r":13},{"s":"6","t":39.3,"r":10.4},{"s":"6","t":58.8,"r":12},{"s":"6","t":59.9,"r":13.8},{"s":"6","t":81.3,"r":11.1},{"s":"6","t":85.8,"r":12.3},{"s":"6","t":88.8,"r":12.3},{"s":"6","t":94.4,"r":13.8},
      {"s":"6","t":104.9,"r":10.4},{"s":"6","t":110.5,"r":12.3},{"s":"6","t":113.1,"r":13},{"s":"6","t":115.7,"r":10.7},{"s":"6","t":118,"r":11.9},{"s":"6","t":120.6,"r":13},{"s":"6","t":122.5,"r":13.8},{"s":"6","t":126.2,"r":12.6},{"s":"6","t":131.8,"r":10.7},{"s":"6","t":133.7,"r":12.8},{"s":"6","t":136.7,"r":13.8},{"s":"6","t":138.2,"r":12},{"s":"6","t":140.5,"r":13.3},
      {"s":"6","t":146.8,"r":11.1},{"s":"6","t":150.6,"r":12.8},{"s":"6","t":154.3,"r":13.8},{"s":"6","t":173,"r":10.4},{"s":"6","t":174.9,"r":12.8},{"s":"6","t":176.8,"r":11.9},{"s":"6","t":180.5,"r":11.4},{"s":"6","t":182.4,"r":12.6},{"s":"6","t":184.3,"r":13.8},{"s":"6","t":186.2,"r":11.7},{"s":"6","t":188,"r":11.1},{"s":"6","t":189.9,"r":13},{"s":"6","t":191.8,"r":12.3},{"s":"6","t":193.6,"r":13.8},{"s":"6","t":196.6,"r":11.4},{"s":"6","t":199.3,"r":12.6},
      {"s":"3","t":6.4,"r":21.9},{"s":"3","t":20.6,"r":18.3},{"s":"3","t":25.9,"r":20.2},{"s":"3","t":42,"r":19.3},{"s":"3","t":44.6,"r":21.9},{"s":"3","t":54.3,"r":21.2},{"s":"3","t":64.4,"r":18.3},{"s":"3","t":67.1,"r":20.2},{"s":"3","t":76.8,"r":19.3},{"s":"3","t":100,"r":19.3},{"s":"3","t":106.8,"r":18.3},
      {"s":"3","t":118,"r":18.3},{"s":"3","t":119.5,"r":20.2},{"s":"3","t":120.6,"r":21.5},{"s":"3","t":124.4,"r":18.3},{"s":"3","t":126.2,"r":19.6},{"s":"3","t":130,"r":20.7},{"s":"3","t":138.2,"r":21.2},
      {"s":"3","t":156.2,"r":18.3},{"s":"3","t":158.1,"r":19.8},{"s":"3","t":160.7,"r":20.7},{"s":"3","t":163.7,"r":21.5},{"s":"3","t":165.6,"r":19.3},{"s":"3","t":169.3,"r":18.3},{"s":"3","t":171.9,"r":20.2},{"s":"3","t":176.8,"r":21.5},{"s":"3","t":178.7,"r":18.8},{"s":"3","t":182.4,"r":20.2},{"s":"3","t":184.3,"r":18.3},{"s":"3","t":186.2,"r":19.3},{"s":"3","t":188,"r":21.2},{"s":"3","t":191.8,"r":19.8},{"s":"3","t":193.6,"r":20.7},{"s":"3","t":195.5,"r":19.3},{"s":"3","t":197.4,"r":21.5},
      {"s":"0","t":4.5,"r":26.5},{"s":"0","t":10.1,"r":28.4},{"s":"0","t":16.9,"r":28.4},{"s":"0","t":28.1,"r":26.5},{"s":"0","t":30.7,"r":27.7},{"s":"0","t":58.8,"r":29.1},{"s":"0","t":70.8,"r":26.7},{"s":"0","t":71.9,"r":28.4},{"s":"0","t":76.8,"r":27.7},{"s":"0","t":78.3,"r":29.6},{"s":"0","t":85,"r":29.4},
      {"s":"0","t":118,"r":30.1},{"s":"0","t":130,"r":26.7},{"s":"0","t":133,"r":28.6},{"s":"0","t":135.6,"r":27.7},{"s":"0","t":138.2,"r":27.2},{"s":"0","t":139.3,"r":29.4},
      {"s":"0","t":156.2,"r":26.7},{"s":"0","t":158.1,"r":28.6},{"s":"0","t":161.8,"r":30.1},{"s":"0","t":171.9,"r":27.7},{"s":"0","t":174.9,"r":27.2},{"s":"0","t":176.8,"r":29.4},{"s":"0","t":184.3,"r":26.7},{"s":"0","t":188,"r":27.5},{"s":"0","t":191.8,"r":28.6},{"s":"0","t":193.6,"r":29.4},{"s":"0","t":197.4,"r":28.1},
      {"s":"-3","t":7.1,"r":39.7},{"s":"-3","t":9.4,"r":37},{"s":"-3","t":15.8,"r":37},{"s":"-3","t":15.8,"r":40},{"s":"-3","t":22.1,"r":39},{"s":"-3","t":36.4,"r":39.5},{"s":"-3","t":38.2,"r":38},{"s":"-3","t":56.9,"r":36},{"s":"-3","t":64.4,"r":36},{"s":"-3","t":71.9,"r":38.7},{"s":"-3","t":79.4,"r":38.7},{"s":"-3","t":83.2,"r":36},
      {"s":"-3","t":111.3,"r":37.7},{"s":"-3","t":118,"r":39.7},{"s":"-3","t":127,"r":37},{"s":"-3","t":135.6,"r":40},{"s":"-3","t":141.2,"r":37},
      {"s":"-3","t":150.6,"r":36.3},{"s":"-3","t":152.4,"r":38},{"s":"-3","t":159.9,"r":37.7},{"s":"-3","t":161.8,"r":36.3},{"s":"-3","t":163.7,"r":38.3},{"s":"-3","t":169.3,"r":37},{"s":"-3","t":171.2,"r":36},{"s":"-3","t":173,"r":38.7},{"s":"-3","t":176.8,"r":37.7},{"s":"-3","t":182.4,"r":37},{"s":"-3","t":186.2,"r":39.3},{"s":"-3","t":188,"r":36},{"s":"-3","t":190.6,"r":38},{"s":"-3","t":197.4,"r":36},{"s":"-3","t":199.3,"r":38.7},
      {"s":"-6","t":3.4,"r":43.5},{"s":"-6","t":4.5,"r":47.6},{"s":"-6","t":12,"r":47.6},{"s":"-6","t":21.4,"r":46.4},{"s":"-6","t":28.1,"r":45.4},{"s":"-6","t":32.6,"r":44.6},{"s":"-6","t":43.8,"r":45.6},{"s":"-6","t":45.7,"r":46.4},{"s":"-6","t":60.7,"r":46.4},{"s":"-6","t":78.3,"r":45.6},{"s":"-6","t":84.3,"r":44.6},{"s":"-6","t":86.9,"r":45.6},{"s":"-6","t":105.6,"r":43.5},
      {"s":"-6","t":127,"r":46.4},{"s":"-6","t":133.7,"r":44.6},
      {"s":"-6","t":148.7,"r":43.5},{"s":"-6","t":148.7,"r":47.6},{"s":"-6","t":159.2,"r":43.5},{"s":"-6","t":161.8,"r":46.4},{"s":"-6","t":166.7,"r":47.6},{"s":"-6","t":168.2,"r":45.6},{"s":"-6","t":170.4,"r":44.6},{"s":"-6","t":171.9,"r":46.4},{"s":"-6","t":174.9,"r":43.5},{"s":"-6","t":177.9,"r":45.4},{"s":"-6","t":182.4,"r":44.6},{"s":"-6","t":184.3,"r":45.6},{"s":"-6","t":186.2,"r":47.6},{"s":"-6","t":194.4,"r":46.4},{"s":"-6","t":199.5,"r":47.6}
    ]
  },
  "columns": 4,
  "bounds": "flush",
  "spacing": {"row": 95, "column": 24.33},
  "concat": [
    {
      "width": 178, "height": 60,
      "layer": [
        {"data": {"name": "wave"}, "transform": [{"filter": "datum.w == 1"}], "mark": {"type": "area", "color": "#808080"},
         "encoding": {"x": {"field": "t", "type": "quantitative", "scale": {"domain": [0, 200], "nice": false, "zero": false}, "axis": null},
                      "y": {"field": "hi", "type": "quantitative", "scale": {"domain": [-30, 30], "nice": false, "zero": false}, "axis": null}, "y2": {"field": "lo"}}},
        {"data": {"name": "peaks"}, "transform": [{"filter": "datum.w == 1"}], "mark": {"type": "rule", "color": "#808080", "strokeWidth": 1.3},
         "encoding": {"x": {"field": "t", "type": "quantitative", "axis": null}, "y": {"field": "hi", "type": "quantitative", "axis": null}, "y2": {"field": "lo"}}},
        {"data": {"name": "sig"}, "transform": [{"filter": "datum.w == 1 && datum.k == 'body'"}], "mark": {"type": "area", "color": "#000000"},
         "encoding": {"x": {"field": "t", "type": "quantitative", "axis": null}, "y": {"field": "hi", "type": "quantitative", "axis": null}, "y2": {"field": "lo"}}},
        {"data": {"name": "sig"}, "transform": [{"filter": "datum.w == 1 && datum.k == 'spike'"}], "mark": {"type": "rule", "color": "#000000", "strokeWidth": 1.7},
         "encoding": {"x": {"field": "t", "type": "quantitative", "axis": null}, "y": {"field": "hi", "type": "quantitative", "axis": null}, "y2": {"field": "lo"}}},
        {"data": {"values": [{}]}, "mark": {"type": "text", "text": "A", "fontSize": 22, "fontWeight": "bold", "align": "left", "baseline": "alphabetic", "color": "#000000"},
         "encoding": {"x": {"datum": -37.1}, "y": {"datum": 36.3}}},
        {"data": {"values": [{}]}, "mark": {"type": "text", "text": "masker", "fontSize": 23, "align": "left", "baseline": "alphabetic", "color": "#858585"},
         "encoding": {"x": {"datum": 1.1}, "y": {"datum": 34.7}}},
        {"data": {"values": [{}]}, "mark": {"type": "text", "text": "signal", "fontSize": 23, "align": "left", "baseline": "alphabetic", "color": "#000000"},
         "encoding": {"x": {"datum": 133.7}, "y": {"datum": 34.7}}},
        {"data": {"values": [{}]}, "mark": {"type": "rule", "color": "#b3b3b3", "strokeWidth": 1.5},
         "encoding": {"x": {"datum": 121.3}, "y": {"datum": -17}, "y2": {"datum": -30}}},
        {"data": {"values": [{}]}, "mark": {"type": "point", "shape": "M-1,1.2L0,0L1,1.2", "filled": false, "stroke": "#b3b3b3", "strokeWidth": 1.5, "size": 25, "opacity": 1},
         "encoding": {"x": {"datum": 121.3}, "y": {"datum": -17}}},
        {"data": {"values": [{}]}, "mark": {"type": "text", "text": "temporal gap", "fontSize": 23, "align": "center", "baseline": "alphabetic", "color": "#b3b3b3"},
         "encoding": {"x": {"datum": 118}, "y": {"datum": -54.7}}}
      ]
    },
    {
      "width": 178, "height": 60,
      "layer": [
        {"data": {"name": "wave"}, "transform": [{"filter": "datum.w == 2"}], "mark": {"type": "area", "color": "#808080"},
         "encoding": {"x": {"field": "t", "type": "quantitative", "scale": {"domain": [0, 200], "nice": false, "zero": false}, "axis": null},
                      "y": {"field": "hi", "type": "quantitative", "scale": {"domain": [-30, 30], "nice": false, "zero": false}, "axis": null}, "y2": {"field": "lo"}}},
        {"data": {"name": "peaks"}, "transform": [{"filter": "datum.w == 2"}], "mark": {"type": "rule", "color": "#808080", "strokeWidth": 1.3},
         "encoding": {"x": {"field": "t", "type": "quantitative", "axis": null}, "y": {"field": "hi", "type": "quantitative", "axis": null}, "y2": {"field": "lo"}}},
        {"data": {"name": "sig"}, "transform": [{"filter": "datum.w == 2 && datum.k == 'body'"}], "mark": {"type": "area", "color": "#000000"},
         "encoding": {"x": {"field": "t", "type": "quantitative", "axis": null}, "y": {"field": "hi", "type": "quantitative", "axis": null}, "y2": {"field": "lo"}}},
        {"data": {"name": "sig"}, "transform": [{"filter": "datum.w == 2 && datum.k == 'spike'"}], "mark": {"type": "rule", "color": "#000000", "strokeWidth": 1.7},
         "encoding": {"x": {"field": "t", "type": "quantitative", "axis": null}, "y": {"field": "hi", "type": "quantitative", "axis": null}, "y2": {"field": "lo"}}}
      ]
    },
    {
      "width": 178, "height": 60,
      "layer": [
        {"data": {"name": "wave"}, "transform": [{"filter": "datum.w == 3"}], "mark": {"type": "area", "color": "#808080"},
         "encoding": {"x": {"field": "t", "type": "quantitative", "scale": {"domain": [0, 200], "nice": false, "zero": false}, "axis": null},
                      "y": {"field": "hi", "type": "quantitative", "scale": {"domain": [-30, 30], "nice": false, "zero": false}, "axis": null}, "y2": {"field": "lo"}}},
        {"data": {"name": "peaks"}, "transform": [{"filter": "datum.w == 3"}], "mark": {"type": "rule", "color": "#808080", "strokeWidth": 1.3},
         "encoding": {"x": {"field": "t", "type": "quantitative", "axis": null}, "y": {"field": "hi", "type": "quantitative", "axis": null}, "y2": {"field": "lo"}}},
        {"data": {"name": "sig"}, "transform": [{"filter": "datum.w == 3 && datum.k == 'body'"}], "mark": {"type": "area", "color": "#000000"},
         "encoding": {"x": {"field": "t", "type": "quantitative", "axis": null}, "y": {"field": "hi", "type": "quantitative", "axis": null}, "y2": {"field": "lo"}}},
        {"data": {"name": "sig"}, "transform": [{"filter": "datum.w == 3 && datum.k == 'spike'"}], "mark": {"type": "rule", "color": "#000000", "strokeWidth": 1.7},
         "encoding": {"x": {"field": "t", "type": "quantitative", "axis": null}, "y": {"field": "hi", "type": "quantitative", "axis": null}, "y2": {"field": "lo"}}}
      ]
    },
    {
      "width": 178, "height": 60,
      "layer": [
        {"data": {"name": "wave"}, "transform": [{"filter": "datum.w == 4"}], "mark": {"type": "area", "color": "#808080"},
         "encoding": {"x": {"field": "t", "type": "quantitative", "scale": {"domain": [0, 200], "nice": false, "zero": false}, "axis": null},
                      "y": {"field": "hi", "type": "quantitative", "scale": {"domain": [-30, 30], "nice": false, "zero": false}, "axis": null}, "y2": {"field": "lo"}}},
        {"data": {"name": "peaks"}, "transform": [{"filter": "datum.w == 4"}], "mark": {"type": "rule", "color": "#808080", "strokeWidth": 1.3},
         "encoding": {"x": {"field": "t", "type": "quantitative", "axis": null}, "y": {"field": "hi", "type": "quantitative", "axis": null}, "y2": {"field": "lo"}}},
        {"data": {"name": "sig"}, "transform": [{"filter": "datum.w == 4 && datum.k == 'body'"}], "mark": {"type": "area", "color": "#000000"},
         "encoding": {"x": {"field": "t", "type": "quantitative", "axis": null}, "y": {"field": "hi", "type": "quantitative", "axis": null}, "y2": {"field": "lo"}}},
        {"data": {"name": "sig"}, "transform": [{"filter": "datum.w == 4 && datum.k == 'spike'"}], "mark": {"type": "rule", "color": "#000000", "strokeWidth": 1.7},
         "encoding": {"x": {"field": "t", "type": "quantitative", "axis": null}, "y": {"field": "hi", "type": "quantitative", "axis": null}, "y2": {"field": "lo"}}},
        {"data": {"values": [{}]}, "mark": {"type": "text", "text": "35 ms", "fontSize": 21, "align": "center", "baseline": "alphabetic", "color": "#000000"},
         "encoding": {"x": {"datum": 129.2}, "y": {"datum": 35}}},
        {"data": {"values": [{}]}, "mark": {"type": "rule", "color": "#000000", "strokeWidth": 2},
         "encoding": {"x": {"datum": 103.4}, "x2": {"datum": 137.1}, "y": {"datum": 27}}}
      ]
    },
    {
      "width": 178, "height": 189,
      "layer": [
        {"data": {"name": "stim"}, "transform": [{"filter": "datum.p == 1"}], "mark": {"type": "rect"},
         "encoding": {"x": {"field": "t0", "type": "quantitative", "scale": {"domain": [0, 200], "nice": false, "zero": false}, "axis": null}, "x2": {"field": "t1"},
                      "fill": {"condition": {"test": "datum.seg === 'gap'", "value": "#f2f2f2"}, "value": "#cccccc"}}},
        {"data": {"name": "p1"}, "mark": {"type": "circle", "size": 21, "opacity": 1},
         "encoding": {"x": {"field": "t", "type": "quantitative", "axis": null},
                      "y": {"field": "r", "type": "quantitative", "scale": {"domain": [0, 56], "reverse": true, "nice": false, "zero": false}, "axis": null},
                      "color": {"field": "s", "type": "nominal",
                                "scale": {"domain": ["-9", "-6", "-3", "0", "3", "6", "inf"], "range": ["#f26c24", "#f8c21a", "#c6dc3c", "#5ebd82", "#1aa0c6", "#1f6eb0", "#000000"]},
                                "legend": {"orient": "none", "legendX": 149, "legendY": 421, "direction": "horizontal", "columns": 7, "title": "SNR (dB)", "titleOrient": "bottom", "titleAnchor": "middle", "titleFontSize": 22, "titleFontWeight": "normal", "titleColor": "#000000", "titlePadding": 14, "labelFontSize": 22, "labelOffset": -22, "columnPadding": 19, "symbolSize": 0, "symbolStrokeWidth": 0, "symbolOpacity": 0, "labelExpr": "datum.label == 'inf' ? 'inf' : datum.label + ' dB'", "encode": {"labels": {"update": {"fill": {"scale": "color", "field": "value"}}}, "title": {"update": {"dx": {"value": 4}}}}}}}},
        {"data": {"values": [{}]}, "mark": {"type": "text", "text": "B", "fontSize": 22, "fontWeight": "bold", "align": "left", "baseline": "alphabetic", "color": "#000000"},
         "encoding": {"x": {"datum": -37.1}, "y": {"datum": -4.7}}},
        {"data": {"values": [{}]}, "mark": {"type": "text", "text": "young adult", "fontSize": 23, "align": "left", "baseline": "alphabetic", "color": "#111111"},
         "encoding": {"x": {"datum": 1.5}, "y": {"datum": -4.7}}},
        {"data": {"values": [{}]}, "mark": {"type": "text", "text": "masker", "fontSize": 23, "align": "left", "baseline": "alphabetic", "color": "#777777"},
         "encoding": {"x": {"datum": 1.1}, "y": {"datum": 64.8}}},
        {"data": {"values": [{}]}, "mark": {"type": "text", "text": "masker", "fontSize": 23, "align": "left", "baseline": "alphabetic", "color": "#777777"},
         "encoding": {"x": {"datum": 143}, "y": {"datum": 64.8}}},
        {"data": {"values": [{}]}, "mark": {"type": "rule", "color": "#8c8c8c", "strokeWidth": 2},
         "encoding": {"x": {"datum": 121.5}, "y": {"datum": 59.3}, "y2": {"datum": 67.3}}},
        {"data": {"values": [{}]}, "mark": {"type": "point", "shape": "M-1,1.2L0,0L1,1.2", "filled": false, "stroke": "#8c8c8c", "strokeWidth": 2, "size": 49, "opacity": 1},
         "encoding": {"x": {"datum": 121.5}, "y": {"datum": 59.3}}},
        {"data": {"values": [{}]}, "mark": {"type": "text", "text": "temporal gap", "fontSize": 23, "align": "center", "baseline": "alphabetic", "color": "#aaaaaa"},
         "encoding": {"x": {"datum": 113.5}, "y": {"datum": 73.7}}}
      ]
    },
    {
      "width": 178, "height": 189,
      "layer": [
        {"data": {"name": "stim"}, "transform": [{"filter": "datum.p == 2"}], "mark": {"type": "rect"},
         "encoding": {"x": {"field": "t0", "type": "quantitative", "scale": {"domain": [0, 200], "nice": false, "zero": false}, "axis": null}, "x2": {"field": "t1"},
                      "fill": {"condition": {"test": "datum.seg === 'gap'", "value": "#f2f2f2"}, "value": "#cccccc"}}},
        {"data": {"name": "p2"}, "mark": {"type": "circle", "size": 21, "opacity": 1},
         "encoding": {"x": {"field": "t", "type": "quantitative", "axis": null},
                      "y": {"field": "r", "type": "quantitative", "scale": {"domain": [0, 56], "reverse": true, "nice": false, "zero": false}, "axis": null},
                      "color": {"field": "s", "type": "nominal",
                                "scale": {"domain": ["-9", "-6", "-3", "0", "3", "6", "inf"], "range": ["#f26c24", "#f8c21a", "#c6dc3c", "#5ebd82", "#1aa0c6", "#1f6eb0", "#000000"]},
                                "legend": {"orient": "none", "legendX": 149, "legendY": 421, "direction": "horizontal", "columns": 7, "title": "SNR (dB)", "titleOrient": "bottom", "titleAnchor": "middle", "titleFontSize": 22, "titleFontWeight": "normal", "titleColor": "#000000", "titlePadding": 14, "labelFontSize": 22, "labelOffset": -22, "columnPadding": 19, "symbolSize": 0, "symbolStrokeWidth": 0, "symbolOpacity": 0, "labelExpr": "datum.label == 'inf' ? 'inf' : datum.label + ' dB'", "encode": {"labels": {"update": {"fill": {"scale": "color", "field": "value"}}}, "title": {"update": {"dx": {"value": 4}}}}}}}},
        {"data": {"values": [{}]}, "mark": {"type": "text", "text": "aged", "fontSize": 23, "align": "left", "baseline": "alphabetic", "color": "#111111"},
         "encoding": {"x": {"datum": 1}, "y": {"datum": -4.7}}}
      ]
    },
    {
      "width": 178, "height": 189,
      "layer": [
        {"data": {"name": "stim"}, "transform": [{"filter": "datum.p == 3"}], "mark": {"type": "rect"},
         "encoding": {"x": {"field": "t0", "type": "quantitative", "scale": {"domain": [0, 200], "nice": false, "zero": false}, "axis": null}, "x2": {"field": "t1"},
                      "fill": {"condition": {"test": "datum.seg === 'gap'", "value": "#f2f2f2"}, "value": "#cccccc"}}},
        {"data": {"name": "p3"}, "mark": {"type": "circle", "size": 21, "opacity": 1},
         "encoding": {"x": {"field": "t", "type": "quantitative", "axis": null},
                      "y": {"field": "r", "type": "quantitative", "scale": {"domain": [0, 56], "reverse": true, "nice": false, "zero": false}, "axis": null},
                      "color": {"field": "s", "type": "nominal",
                                "scale": {"domain": ["-9", "-6", "-3", "0", "3", "6", "inf"], "range": ["#f26c24", "#f8c21a", "#c6dc3c", "#5ebd82", "#1aa0c6", "#1f6eb0", "#000000"]},
                                "legend": {"orient": "none", "legendX": 149, "legendY": 421, "direction": "horizontal", "columns": 7, "title": "SNR (dB)", "titleOrient": "bottom", "titleAnchor": "middle", "titleFontSize": 22, "titleFontWeight": "normal", "titleColor": "#000000", "titlePadding": 14, "labelFontSize": 22, "labelOffset": -22, "columnPadding": 19, "symbolSize": 0, "symbolStrokeWidth": 0, "symbolOpacity": 0, "labelExpr": "datum.label == 'inf' ? 'inf' : datum.label + ' dB'", "encode": {"labels": {"update": {"fill": {"scale": "color", "field": "value"}}}, "title": {"update": {"dx": {"value": 4}}}}}}}},
        {"data": {"values": [{}]}, "mark": {"type": "text", "text": "young adult", "fontSize": 23, "align": "left", "baseline": "alphabetic", "color": "#111111"},
         "encoding": {"x": {"datum": 1.5}, "y": {"datum": -4.7}}}
      ]
    },
    {
      "width": 178, "height": 189,
      "layer": [
        {"data": {"name": "stim"}, "transform": [{"filter": "datum.p == 4"}], "mark": {"type": "rect"},
         "encoding": {"x": {"field": "t0", "type": "quantitative", "scale": {"domain": [0, 200], "nice": false, "zero": false}, "axis": null}, "x2": {"field": "t1"},
                      "fill": {"condition": {"test": "datum.seg === 'gap'", "value": "#f2f2f2"}, "value": "#cccccc"}}},
        {"data": {"name": "p4"}, "mark": {"type": "circle", "size": 21, "opacity": 1},
         "encoding": {"x": {"field": "t", "type": "quantitative", "axis": null},
                      "y": {"field": "r", "type": "quantitative", "scale": {"domain": [0, 56], "reverse": true, "nice": false, "zero": false}, "axis": null},
                      "color": {"field": "s", "type": "nominal",
                                "scale": {"domain": ["-9", "-6", "-3", "0", "3", "6", "inf"], "range": ["#f26c24", "#f8c21a", "#c6dc3c", "#5ebd82", "#1aa0c6", "#1f6eb0", "#000000"]},
                                "legend": {"orient": "none", "legendX": 149, "legendY": 421, "direction": "horizontal", "columns": 7, "title": "SNR (dB)", "titleOrient": "bottom", "titleAnchor": "middle", "titleFontSize": 22, "titleFontWeight": "normal", "titleColor": "#000000", "titlePadding": 14, "labelFontSize": 22, "labelOffset": -22, "columnPadding": 19, "symbolSize": 0, "symbolStrokeWidth": 0, "symbolOpacity": 0, "labelExpr": "datum.label == 'inf' ? 'inf' : datum.label + ' dB'", "encode": {"labels": {"update": {"fill": {"scale": "color", "field": "value"}}}, "title": {"update": {"dx": {"value": 4}}}}}}}},
        {"data": {"values": [{}]}, "mark": {"type": "text", "text": "aged", "fontSize": 23, "align": "left", "baseline": "alphabetic", "color": "#111111"},
         "encoding": {"x": {"datum": 1}, "y": {"datum": -4.7}}},
        {"data": {"values": [{}]}, "mark": {"type": "rule", "color": "#000000", "strokeWidth": 2},
         "encoding": {"x": {"datum": 163}, "x2": {"datum": 199}, "y": {"datum": 59.3}}},
        {"data": {"values": [{}]}, "mark": {"type": "text", "text": "35 ms", "fontSize": 21, "align": "center", "baseline": "alphabetic", "color": "#000000"},
         "encoding": {"x": {"datum": 191}, "y": {"datum": 66.3}}},
        {"data": {"values": [{}]}, "mark": {"type": "rule", "color": "#000000", "strokeWidth": 2},
         "encoding": {"x": {"datum": 212.4}, "y": {"datum": -0.3}, "y2": {"datum": 7.1}}},
        {"data": {"values": [{}]}, "mark": {"type": "text", "text": "5 trials", "fontSize": 23, "angle": 270, "align": "center", "baseline": "middle", "color": "#000000"},
         "encoding": {"x": {"datum": 224.7}, "y": {"datum": 1.6}}}
      ]
    }
  ]
}
